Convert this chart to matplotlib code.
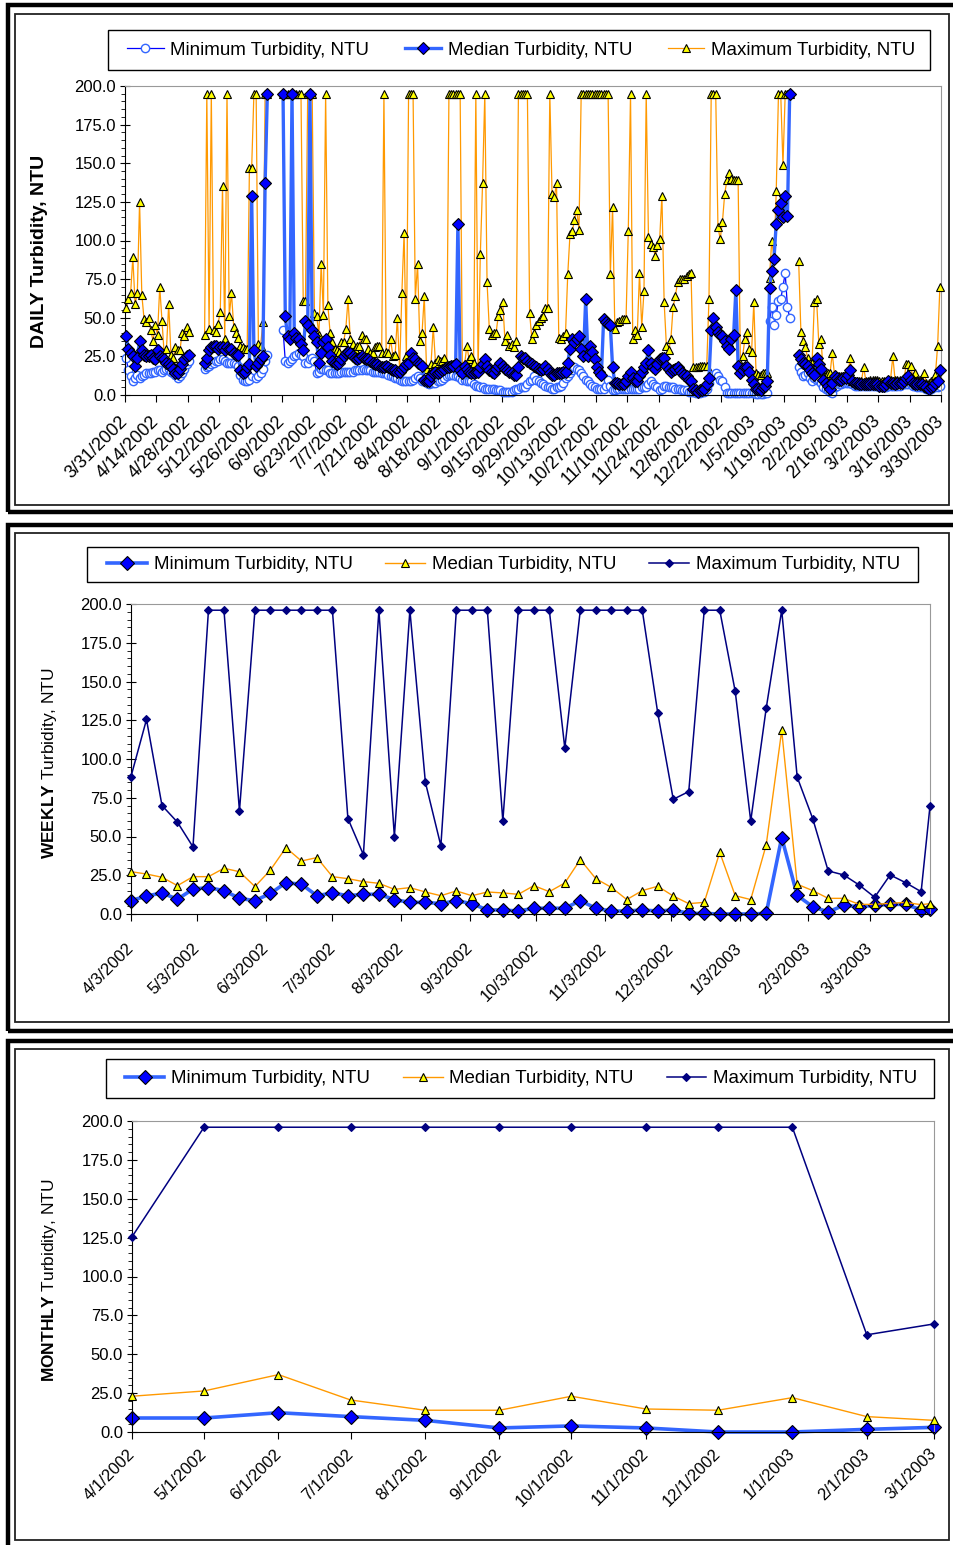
import numpy as np
import matplotlib
matplotlib.use("Agg")
import matplotlib.pyplot as plt
import matplotlib.dates as mdates
from matplotlib.patches import Rectangle
from matplotlib.ticker import MultipleLocator, FixedLocator, FuncFormatter
import datetime as dt

plt.rcParams['font.family'] = ['Liberation Sans', 'DejaVu Sans']
plt.rcParams['mathtext.fontset'] = 'custom'
plt.rcParams['mathtext.rm'] = 'Liberation Sans'
plt.rcParams['mathtext.bf'] = 'Liberation Sans:bold'

N = np.nan

# ---------------- DAILY data (one value per day from 3/31/2002) ----------------
daily_start = dt.datetime(2002, 3, 31)

daily_max = (
    [56, 62, 66, 89, 59, 66, 125, 65, 49, 47, 50, 42, 35, 45, 39, 70, 48, 26, 30, 59,
     26, 24, 31, 29, 29, 40, 38, 44, 41]
    + [N] * 6
    + [39, 195, 43, 195, 42, 41, 46, 54, 135, 36, 195, 51, 66, 44, 40, 37, 32, 31, 30, 30,
       147, 147, 195, 195, 33, 32, 47, 195, 195]
    + [N] * 6
    + [195, 195, 195, 195, 195, 195, 195, 195, 195, 61, 61, 195, 195, 195, 53, 51, 39, 85, 52, 195,
       58, 40]
    + [34, 30, 29, 28, 34, 34, 43, 62, 36, 33,
       30, 32, 32, 39, 36, 36, 30, 27, 27, 31,
       32, 32, 27, 195, 28, 27, 36, 25, 26, 50,
       16, 66, 105, 25, 195, 195, 195, 62, 85, 35,
       40, 64, 17, 14, 20, 44, 21, 23, 22, 22,
       24, 19, 195, 195, 195, 195, 195, 195, 15, 20,
       32, 23, 25, 21, 195, 16, 91, 137, 195, 73,
       43, 39, 40, 40, 51, 55, 60, 35, 39, 32,
       33, 31, 35, 195, 195, 195, 195, 195, 53, 36]
    + [40, 45, 48, 50, 51, 56, 56, 195, 130, 128, 137, 37, 36, 38, 40, 78, 104, 106, 113, 120, 107]
    + [195] * 13
    + [78, 122, 43, 47, 48, 49, 49, 49, 106, 195,
       36, 42, 39, 79, 44, 67, 195, 102, 98, 96,
       90, 97, 101, 129, 60, 32, 29, 36, 57, 64,
       73, 75, 75, 75, 77, 78, 79, 18, 18, 18,
       19, 19, 19, 19, 62, 195, 195, 195, 109, 101,
       112, 130, 139, 144, 140, 139, 139, 139, 21, 25]
    + [36, 41, 30, 28, 60, 14, 13, 13, 14, 14, 14, 76, 100, 89, 132, 195, 195, 149, 195, 195, 195]
    + [N] * 3
    + [87, 41, 35, 31, 24, 21, 21, 60, 62, 33,
       36, 13, 13, 14, 14, 27, 13, 12, 12, 12,
       12, 14, 14, 24, 9, 9, 9, 9, 9, 18,
       9, 9, 10, 10, 10, 10, 9, 9, 9, 9,
       10, 10, 25, 10, 10, 10, 10, 10, 20, 20,
       19, 11, 14, 10, 10, 9, 14, 8, 8, 9,
       9, 13, 32, 70]
)

daily_median = (
    [38, 30, 27, 25, 19, 24, 35, 29, 26, 25, 25, 26, 24, 23, 29, 25, 24, 23, 21, 20,
     19, 17, 14, 14, 17, 20, 23, 25, 26]
    + [N] * 6
    + [21, 24, 29, 31, 32, 32, 30, 31, 31, 29, 31, 30, 30, 27, 26, 26, 16, 14, 15, 18,
       20, 129, 29, 19, 21, 23, 25, 137, 195]
    + [N] * 6
    + [195, 51, 38, 36, 195, 40, 37, 36, 33, 29, 48, 45, 195, 42, 38, 34, 21, 27, 34, 36,
       31, 26]
    + [22, 21, 20, 21, 23, 25, 27, 28, 27, 25,
       24, 23, 24, 25, 24, 23, 23, 22, 21, 20,
       20, 19, 18, 18, 19, 18, 17, 16, 16, 15,
       15, 17, 18, 20, 21, 27, 24, 23, 21, 20,
       19, 10, 9, 9, 12, 14, 15, 14, 15, 16,
       17, 18, 18, 19, 19, 20, 111, 16, 14, 19,
       17, 15, 14, 14, 15, 15, 18, 20, 23, 19,
       16, 15, 14, 17, 19, 21, 19, 17, 16, 15,
       14, 13, 13, 18, 25, 24, 24, 22, 21, 20]
    + [19, 18, 17, 16, 17, 19, 17, 14, 13, 13, 14, 14, 14, 15, 15, 21, 30, 36, 34, 36, 38]
    + [30, 25, 62, 25, 32, 28, 23, 18, 15, 13, 49, 47, 46]
    + [45, 18, 8, 8, 7, 7, 7, 9, 12, 15,
       11, 9, 9, 12, 15, 18, 21, 29, 21, 18,
       17, 20, 23, 24, 24, 19, 17, 15, 16, 17,
       18, 16, 14, 13, 12, 10, 9, 4, 3, 2,
       3, 3, 4, 7, 11, 42, 50, 44, 41, 39,
       38, 35, 32, 30, 36, 39, 68, 19, 14, 16]
    + [18, 18, 15, 10, 7, 4, 4, 3, 5, 6, 9, 69, 80, 88, 111, 120, 124, 115, 129, 116, 195]
    + [N] * 3
    + [26, 23, 21, 20, 19, 16, 14, 13, 24, 20,
       17, 10, 8, 6, 4, 8, 12, 11, 10, 10,
       11, 11, 13, 16, 9, 8, 8, 7, 7, 7,
       7, 7, 7, 7, 7, 7, 6, 6, 6, 7,
       9, 8, 8, 7, 8, 8, 8, 9, 11, 12,
       10, 8, 7, 7, 7, 7, 6, 5, 4, 5,
       6, 8, 9, 16]
)

daily_min = (
    [24, 16, 12, 9, 11, 13, 11, 12, 13, 14, 14, 14, 15, 15, 16, 16, 15, 16, 17, 17,
     15, 14, 13, 11, 12, 14, 17, 20, 22]
    + [N] * 6
    + [17, 18, 19, 20, 21, 22, 22, 23, 23, 22, 21, 21, 21, 21, 20, 19, 13, 10, 9, 9,
       10, 12, 16, 11, 12, 14, 17, 22, 26]
    + [N] * 6
    + [42, 22, 21, 22, 23, 25, 26, 27, 26, 25, 21, 21, 23, 24, 22, 14, 15, 17, 17, 16,
       16, 14]
    + [14, 14, 14, 14, 15, 15, 15, 15, 15, 15,
       16, 16, 16, 16, 17, 16, 16, 16, 15, 15,
       15, 15, 14, 14, 14, 13, 12, 12, 11, 11,
       10, 9, 9, 9, 9, 9, 10, 11, 12, 11,
       9, 9, 8, 7, 8, 8, 8, 9, 9, 10,
       11, 12, 13, 13, 13, 12, 12, 11, 10, 10,
       9, 9, 9, 7, 6, 6, 5, 5, 4, 4,
       4, 4, 4, 3, 3, 3, 2, 2, 2, 2,
       2, 3, 4, 4, 5, 5, 5, 7, 9, 10]
    + [12, 10, 9, 8, 7, 6, 5, 5, 4, 4, 5, 5, 6, 8, 11, 12, 14, 16, 18, 17, 16]
    + [14, 12, 10, 9, 7, 6, 5, 4, 4, 4, 4, 6, 10]
    + [6, 3, 3, 4, 4, 4, 4, 4, 4, 4,
       4, 4, 4, 4, 5, 5, 5, 7, 9, 7,
       6, 5, 3, 4, 6, 6, 5, 5, 5, 4,
       4, 4, 3, 3, 3, 2, 2, 2, 1, 1,
       1, 2, 2, 4, 8, 12, 13, 14, 12, 10,
       9, 5, 1, 1, 1, 1, 1, 1, 1, 1]
    + [1, 1, 1, 1, 1, 0.5, 0.5, 0.5, 0.5, 1, 1, 48, 57, 45, 52, 61, 62, 70, 79, 57, 50]
    + [N] * 3
    + [18, 15, 12, 13, 14, 11, 9, 11, 10, 10,
       8, 5, 4, 3, 2, 1, 5, 6, 7, 7,
       8, 8, 8, 8, 7, 6, 6, 6, 6, 6,
       6, 6, 6, 6, 6, 6, 5, 5, 5, 5,
       6, 6, 6, 6, 6, 6, 7, 7, 7, 7,
       7, 6, 6, 5, 5, 5, 5, 4, 3, 4,
       5, 5, 5, 6]
)

# ---------------- WEEKLY data ----------------
weekly_dates = [dt.datetime(2002, 4, 3) + dt.timedelta(days=7 * i) for i in range(52)] + [dt.datetime(2003, 3, 30)]
weekly_min = [8.6, 11.6, 13.6, 9.5, 16.1, 17, 15.1, 10.1, 8.6, 13.3, 20.2, 19.2, 11.8, 13.6, 11.8,
              12.7, 12.7, 9.3, 7.5, 7.5, 6.7, 8.6, 6.7, 2.6, 2.6,
              1.9, 3.7, 3.7, 3.7, 8.6, 3.7, 1.9, 1.9, 2.6, 1.9, 2.6, 0.4, 0.4, 0, 0, 0, 0.4,
              49.3, 12, 4.7, 1.3, 5.6, 4.7, 5.6, 6.2, 6.2, 2.6, 3.2]
weekly_median = [27.3, 25.8, 23.7, 18.3, 24.1, 24.1, 29.5, 27.3, 17.7, 28.4, 42.8, 34.2, 36.4, 24.1,
                 22.8, 20.9, 19.8, 15.9, 17, 14.2, 11.8, 14.9, 11.8, 14.2, 13.6,
                 12.7, 18.3, 14.4, 20, 35.1, 22.8, 17.2, 9.3, 15.1, 17.9, 11.6, 6.7, 7.5, 39.8,
                 11.8, 9.3, 44.6, 118.4, 19.2, 15.1, 10.1, 10.1, 6.2, 6.2, 6.9, 7.5, 6, 6.7]
weekly_max = [88.7, 125.5, 70, 59.2, 43.3, 196, 196, 66.5, 196, 196, 196, 196, 196, 196, 61.6, 38.3,
              196, 50, 196, 85, 44, 196, 196, 196, 60,
              196, 196, 196, 107, 196, 196, 196, 196, 196, 129.6, 74, 79, 196, 196, 143.6, 60,
              132.8, 196, 88.3, 61.6, 27.8, 25.2, 18.7, 10.8, 25.2, 20.2, 14.4, 69.7]

# ---------------- MONTHLY data ----------------
monthly_dates = [dt.datetime(2002 + (3 + i) // 12, (3 + i) % 12 + 1, 1) for i in range(12)]
monthly_min = [9, 9, 12.4, 9.9, 7.5, 2.6, 3.9, 2.6, 0, 0, 1.7, 3]
monthly_median = [23, 26.4, 36.9, 20.6, 14, 14, 23, 14.8, 14, 22.1, 9.9, 7.5]
monthly_max = [125.5, 196, 196, 196, 196, 196, 196, 196, 196, 196, 62.5, 69.5]

LABELS = ["Minimum Turbidity, NTU", "Median Turbidity, NTU", "Maximum Turbidity, NTU"]

# ---------------- styling ----------------
LB = '#3366FF'
DB = '#0000FF'
OR = '#FF9900'
YE = '#FFFF00'
NV = '#000080'

W, H = 954, 1545
fig = plt.figure(figsize=(W / 100, H / 100), dpi=100)


def add_ax(l, t, r, b):
    return fig.add_axes([l / W, 1 - b / H, (r - l) / W, (b - t) / H])


def frame(t_out, b_out, t_in, b_in):
    fig.patches.append(Rectangle((8 / W, 1 - b_out / H), (975 - 8) / W, (b_out - t_out) / H,
                                 transform=fig.transFigure, fill=False, lw=3.2, ec='black', zorder=0))
    fig.patches.append(Rectangle((15 / W, 1 - b_in / H), (949 - 15) / W, (b_in - t_in) / H,
                                 transform=fig.transFigure, fill=False, lw=1.3, ec='#222222', zorder=0))


def datefmt(v, p):
    d = mdates.num2date(v)
    return f"{d.month}/{d.day}/{d.year}"


def style(ax, pad, xsize):
    ax.set_ylim(0, 200)
    ax.yaxis.set_major_locator(MultipleLocator(25))
    ax.yaxis.set_minor_locator(MultipleLocator(5))
    ax.yaxis.set_major_formatter(FuncFormatter(lambda v, p: f"{v:.1f}"))
    for s in ['top', 'right']:
        ax.spines[s].set_color('#999999')
    for s in ['left', 'bottom']:
        ax.spines[s].set_color('black')
    ax.tick_params(axis='y', which='major', direction='inout', length=7, labelsize=12, pad=3)
    ax.tick_params(axis='y', which='minor', direction='out', length=3)
    ax.tick_params(axis='x', which='major', direction='out', length=5, labelsize=xsize, pad=pad)
    ax.xaxis.set_major_formatter(FuncFormatter(datefmt))


def legend(handles, box, inner, hl):
    l, t, r, b = box
    fig.patches.append(Rectangle((l / W, 1 - b / H), (r - l) / W, (b - t) / H,
                                 transform=fig.transFigure, fill=False, ec='black', lw=1.0, zorder=1))
    il, ir = inner
    cy = (t + b) / 2
    leg = fig.legend(handles=handles, labels=LABELS, loc='center',
                     bbox_to_anchor=(il / W, 1 - (cy + 10) / H, (ir - il) / W, 20 / H),
                     bbox_transform=fig.transFigure, ncol=3, mode='expand', frameon=False,
                     fontsize=13.5, handlelength=hl, handletextpad=0.35, borderpad=0,
                     borderaxespad=0)
    return leg


# ---------------- frames ----------------
frame(5, 512, 14, 505)
frame(525, 1031, 533, 1022)
frame(1041, 1560, 1049, 1540)

# ---------------- DAILY ----------------
base = mdates.date2num(daily_start)
dx = base + np.arange(len(daily_max)) + 0.5
ax1 = add_ax(125, 86, 941, 395)
h_min, = ax1.plot(dx, daily_min, '-', color=DB, lw=0.9, marker='o', ms=6, mfc='white',
                  mec=LB, mew=1.0, zorder=2)
h_max, = ax1.plot(dx, daily_max, '-', color=OR, lw=0.9, marker='^', ms=6, mfc=YE,
                  mec='black', mew=0.8, zorder=3)
h_med, = ax1.plot(dx, daily_median, '-', color=LB, lw=2.4, marker='D', ms=6, mfc=DB,
                  mec='black', mew=0.8, zorder=4)
ax1.set_xlim(base, base + 364)
ax1.xaxis.set_major_locator(FixedLocator(base + 14 * np.arange(27)))
style(ax1, pad=12, xsize=13)
legend([h_min, h_med, h_max], (108, 30, 930, 70), (127, 915), 1.95)
fig.text(40 / W, 1 - 251 / H, "DAILY Turbidity, NTU", rotation=90, fontsize=14,
         fontweight='bold', ha='center', va='center')

# ---------------- WEEKLY ----------------
ax2 = add_ax(131, 604, 930, 914)
wx = mdates.date2num(weekly_dates)
g_min, = ax2.plot(wx, weekly_min, '-', color=LB, lw=2.6, marker='D', ms=7, mfc=DB,
                  mec='black', mew=0.8, zorder=2)
g_med, = ax2.plot(wx, weekly_median, '-', color=OR, lw=1.0, marker='^', ms=6, mfc=YE,
                  mec='black', mew=0.8, zorder=3)
g_max, = ax2.plot(wx, weekly_max, '-', color=NV, lw=1.1, marker='D', ms=3.8, mfc=NV,
                  mec=NV, mew=0.8, zorder=4)
ax2.set_xlim(mdates.date2num(dt.datetime(2002, 4, 3)), mdates.date2num(dt.datetime(2003, 3, 30)))
wticks = [dt.datetime(2002 + (3 + i) // 12, (3 + i) % 12 + 1, 3) for i in range(12)]
ax2.xaxis.set_major_locator(FixedLocator(mdates.date2num(wticks)))
style(ax2, pad=18, xsize=12)
legend([g_min, g_med, g_max], (87, 547, 918, 582), (107, 900), 2.15)
fig.text(50 / W, 1 - 763 / H, r"$\mathbf{WEEKLY}$ Turbidity, NTU", rotation=90, fontsize=12.5,
         ha='center', va='center')

# ---------------- MONTHLY ----------------
ax3 = add_ax(132, 1121, 934, 1432)
mx = mdates.date2num(monthly_dates)
k_min, = ax3.plot(mx, monthly_min, '-', color=LB, lw=2.6, marker='D', ms=7, mfc=DB,
                  mec='black', mew=0.8, zorder=2)
k_med, = ax3.plot(mx, monthly_median, '-', color=OR, lw=1.0, marker='^', ms=6, mfc=YE,
                  mec='black', mew=0.8, zorder=3)
k_max, = ax3.plot(mx, monthly_max, '-', color=NV, lw=1.1, marker='D', ms=3.8, mfc=NV,
                  mec=NV, mew=0.8, zorder=4)
ax3.set_xlim(mx[0], mx[-1])
ax3.xaxis.set_major_locator(FixedLocator(mx))
style(ax3, pad=9, xsize=12)
legend([k_min, k_med, k_max], (106, 1059, 934, 1098), (125, 917), 2.1)
fig.text(50 / W, 1 - 1280 / H, r"$\mathbf{MONTHLY}$ Turbidity, NTU", rotation=90, fontsize=12.5,
         ha='center', va='center')

for ax in (ax1, ax2, ax3):
    for lab in ax.get_xticklabels():
        lab.set_rotation(45)
        lab.set_ha('right')
        lab.set_va('center')
        lab.set_rotation_mode('anchor')
    for ln in ax.get_lines():
        ln.set_clip_on(False)

fig.savefig("out.png", dpi=100)
